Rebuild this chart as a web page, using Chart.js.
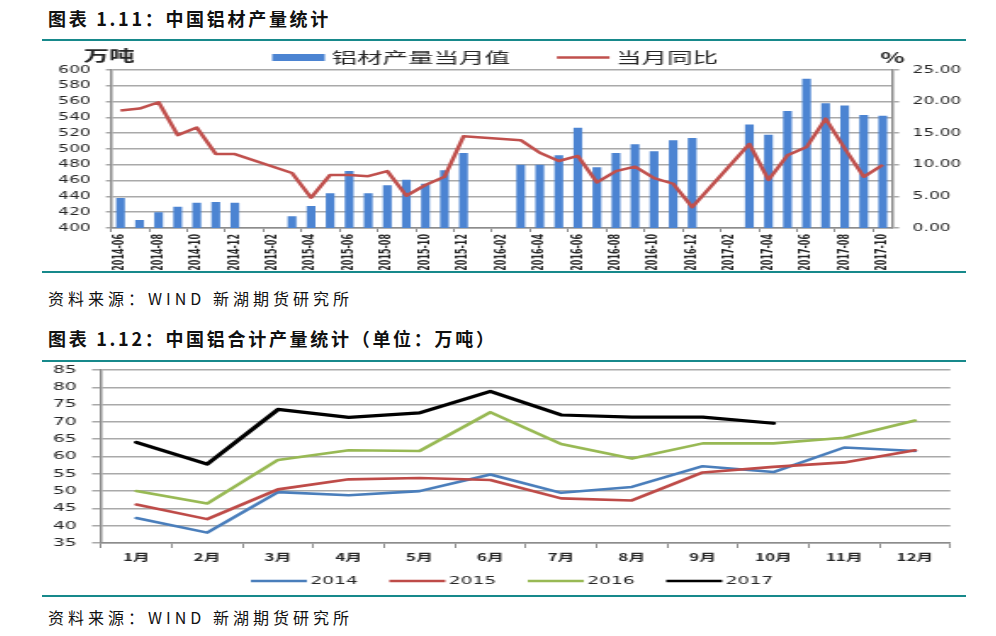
<!DOCTYPE html>
<html>
<head>
<meta charset="utf-8">
<script src="https://cdn.jsdelivr.net/npm/chart.js"></script>
<style>
  body { margin: 0; background: #fff; width: 996px; height: 636px; position: relative; overflow: hidden;
         font-family: "Noto Sans CJK SC", sans-serif; color: #111; }
  .t { position: absolute; left: 48px; font-weight: 700; font-size: 18px; letter-spacing: 2.7px; line-height: 1; white-space: nowrap; }
  .src { position: absolute; left: 48px; font-size: 16px; letter-spacing: 4px; line-height: 1; white-space: nowrap; }
  .rule { position: absolute; left: 42px; width: 924px; height: 2px; background: #17898b; }
  canvas { position: absolute; }
</style>
</head>
<body>
<div class="t" style="top:9px">图表 1.11：中国铝材产量统计</div>
<div class="rule" style="top:39px"></div>
<!-- 画布按横向拉伸显示，和原图一致 -->
<canvas id="c1" width="544" height="228" style="left:42px;top:42px;width:924px;height:228px"></canvas>
<div class="rule" style="top:271px"></div>
<div class="src" style="top:290px">资料来源：WIND 新湖期货研究所</div>

<div class="t" style="top:329px">图表 1.12：中国铝合计产量统计（单位：万吨）</div>
<div class="rule" style="top:360px"></div>
<canvas id="c2" width="551" height="231" style="left:30px;top:363px;width:936px;height:231px"></canvas>
<div class="rule" style="top:595px"></div>
<div class="src" style="top:609px">资料来源：WIND 新湖期货研究所</div>

<script>
    // 图1 数据：铝材产量（万吨）与同比（%）
    var months = ['2014-06', '2014-07', '2014-08', '2014-09', '2014-10', '2014-11', '2014-12',
        '2015-01', '2015-02', '2015-03', '2015-04', '2015-05', '2015-06', '2015-07', '2015-08',
        '2015-09', '2015-10', '2015-11', '2015-12', '2016-01', '2016-02', '2016-03', '2016-04',
        '2016-05', '2016-06', '2016-07', '2016-08', '2016-09', '2016-10', '2016-11', '2016-12',
        '2017-01', '2017-02', '2017-03', '2017-04', '2017-05', '2017-06', '2017-07', '2017-08',
        '2017-09', '2017-10'];
    var aluOutput = [438, 410, 420, 427, 432, 433, 432, null, null, 415, 428, 444, 472, 444, 454,
        461, 456, 473, 495, null, null, 480, 480, 492, 527, 477, 495, 506, 497, 511, 514,
        null, null, 531, 518, 548, 589, 558, 555, 543, 542];
    var aluYoy = [18.6, 18.9, 19.9, 14.7, 15.9, 11.7, 11.7, null, null, 8.7, 4.8, 8.4, 8.4, 8.2, 9.0,
        5.1, 6.8, 8.1, 14.5, null, null, 13.9, 11.9, 10.6, 11.4, 7.2, 9.0, 9.7, 7.9, 7.0, 3.3,
        null, null, 13.3, 7.6, 11.5, 12.8, 17.3, 12.6, 8.1, 10.0];

    // 图2 数据：铝合计产量（万吨）
    var monthsCN = ['1月', '2月', '3月', '4月', '5月', '6月', '7月', '8月', '9月', '10月', '11月', '12月'];
    var out2014 = [42.2, 38.0, 49.7, 48.8, 50.0, 54.8, 49.5, 51.2, 57.2, 55.5, 62.6, 61.6];
    var out2015 = [46.1, 41.9, 50.5, 53.4, 53.8, 53.2, 47.9, 47.3, 55.4, 57.0, 58.3, 61.8];
    var out2016 = [50.0, 46.4, 59.0, 61.8, 61.6, 72.8, 63.6, 59.4, 63.8, 63.8, 65.4, 70.4];
    var out2017 = [64.1, 57.8, 73.6, 71.3, 72.6, 78.8, 72.0, 71.4, 71.4, 69.6];

    var axisGrey = '#8c8c8c';
    var gridGrey = '#a9a9a9';
    var tickColor = '#262626';

    // 横排图例，位置由 options 给
    var flatLegend = {
        id: 'flatLegend',
        afterDraw: function(chart, args, o) {
            var ctx = chart.ctx;
            ctx.save();
            ctx.font = o.font;
            ctx.textBaseline = 'middle';
            var x = o.x;
            chart.data.datasets.forEach(function(ds) {
                if (ds.type === 'bar') {
                    ctx.fillStyle = ds.backgroundColor;
                    ctx.fillRect(x, o.y - o.boxH / 2, o.boxW, o.boxH);
                } else {
                    ctx.strokeStyle = ds.borderColor;
                    ctx.lineWidth = o.lineW;
                    ctx.beginPath();
                    ctx.moveTo(x, o.y);
                    ctx.lineTo(x + o.boxW, o.y);
                    ctx.stroke();
                }
                x += o.boxW + o.gap;
                ctx.fillStyle = o.color;
                ctx.fillText(ds.label, x, o.y);
                x += ctx.measureText(ds.label).width + o.spacing;
            });
            ctx.restore();
        }
    };

    // 单位文字（万吨、%）
    var unitLabels = {
        id: 'unitLabels',
        afterDraw: function(chart, args, o) {
            var ctx = chart.ctx;
            var area = chart.chartArea;
            ctx.save();
            ctx.fillStyle = o.color;
            ctx.textBaseline = 'middle';
            ctx.font = o.font;
            ctx.textAlign = 'right';
            ctx.fillText(o.left, area.left + 14, o.y);
            ctx.textAlign = 'center';
            ctx.fillText(o.right, area.right, o.y + 2);
            ctx.restore();
        }
    };

    new Chart(document.getElementById('c1'), {
        data: {
            labels: months,
            datasets: [{
                type: 'bar',
                label: '铝材产量当月值',
                data: aluOutput,
                yAxisID: 'y',
                backgroundColor: '#4c84d2',
                barPercentage: 0.46,
                categoryPercentage: 1,
                order: 1
            }, {
                type: 'line',
                label: '当月同比',
                data: aluYoy,
                yAxisID: 'y1',
                borderColor: '#c0504d',
                borderWidth: 2.5,
                pointRadius: 0,
                tension: 0,
                spanGaps: true,
                borderJoinStyle: 'round',
                order: 0
            }]
        },
        options: {
            responsive: false,
            animation: false,
            layout: { padding: { top: 28, left: 0, right: 0, bottom: 0 } },
            plugins: {
                legend: { display: false },
                tooltip: { enabled: false },
                flatLegend: { x: 135.5, y: 15.5, boxW: 31, boxH: 7, gap: 4, spacing: 27.6, lineW: 2.5,
                              font: '15px "Noto Sans CJK SC"', color: '#262626' },
                unitLabels: { left: '万吨', right: '%', y: 13, font: 'bold 15px "Noto Sans CJK SC"', color: '#262626' }
            },
            scales: {
                x: {
                    offset: true,
                    grid: {
                        offset: true, drawOnChartArea: false, tickLength: 4, lineWidth: 1,
                        color: function(c) { return c.index % 2 === 0 ? axisGrey : 'transparent'; }
                    },
                    border: { color: axisGrey, width: 1.5 },
                    ticks: {
                        autoSkip: false, maxRotation: 90, minRotation: 90, padding: 2, color: tickColor,
                        font: { family: 'DejaVu Sans', size: 8, weight: 'bold' },
                        callback: function(v, i) { return i % 2 === 0 ? this.getLabelForValue(v) : ''; }
                    },
                    afterFit: function(s) { s.height = 42; }
                },
                y: {
                    position: 'left', min: 400, max: 600,
                    ticks: { stepSize: 20, padding: 9, color: tickColor, font: { family: 'DejaVu Sans', size: 10 } },
                    grid: { color: gridGrey, lineWidth: 1.5, tickLength: 3 },
                    border: { color: axisGrey, width: 1.5 },
                    afterFit: function(s) { s.width = 40.6; }
                },
                y1: {
                    position: 'right', min: 0, max: 25,
                    ticks: { stepSize: 5, padding: 8, color: tickColor, font: { family: 'DejaVu Sans', size: 10 },
                             callback: function(v) { return v.toFixed(2); } },
                    grid: { drawOnChartArea: false, color: gridGrey, lineWidth: 1.5, tickLength: 4 },
                    border: { color: axisGrey, width: 1.5 },
                    afterFit: function(s) { s.width = 43.4; }
                }
            }
        },
        plugins: [flatLegend, unitLabels]
    });

    function yearLine(label, data, color, width, order) {
        return {
            type: 'line', label: label, data: data, borderColor: color, borderWidth: width,
            pointRadius: 0, tension: 0, borderJoinStyle: 'round', borderCapStyle: 'round', order: order
        };
    }

    new Chart(document.getElementById('c2'), {
        data: {
            labels: monthsCN,
            datasets: [
                yearLine('2014', out2014, '#4a7ebb', 2.6, 3),
                yearLine('2015', out2015, '#be4b48', 2.6, 2),
                yearLine('2016', out2016, '#98b954', 2.6, 1),
                yearLine('2017', out2017, '#000000', 3.2, 0)
            ]
        },
        options: {
            responsive: false,
            animation: false,
            layout: { padding: { top: 7, left: 0, right: 9.2, bottom: 29 } },
            plugins: {
                legend: { display: false },
                tooltip: { enabled: false },
                flatLegend: { x: 130, y: 218, boxW: 33, boxH: 3, gap: 2, spacing: 18.5, lineW: 2.5,
                              font: '11px "DejaVu Sans"', color: '#262626' }
            },
            scales: {
                x: {
                    offset: true,
                    grid: { offset: true, drawOnChartArea: false, tickLength: 5, lineWidth: 1, color: axisGrey },
                    border: { color: axisGrey, width: 1.5 },
                    ticks: { padding: 3, color: tickColor, font: { family: 'Noto Sans CJK SC', size: 10, weight: 'bold' } },
                    afterFit: function(s) { s.height = 22; }
                },
                y: {
                    min: 35, max: 85,
                    ticks: { stepSize: 5, padding: 9, color: tickColor, font: { family: 'DejaVu Sans', size: 11 } },
                    grid: { color: gridGrey, lineWidth: 1.5, tickLength: 5.3 },
                    border: { color: axisGrey, width: 1.5 },
                    afterFit: function(s) { s.width = 41.8; s.paddingTop = 0; s.paddingBottom = 0; }
                }
            }
        },
        plugins: [flatLegend]
    });
</script>
</body>
</html>
